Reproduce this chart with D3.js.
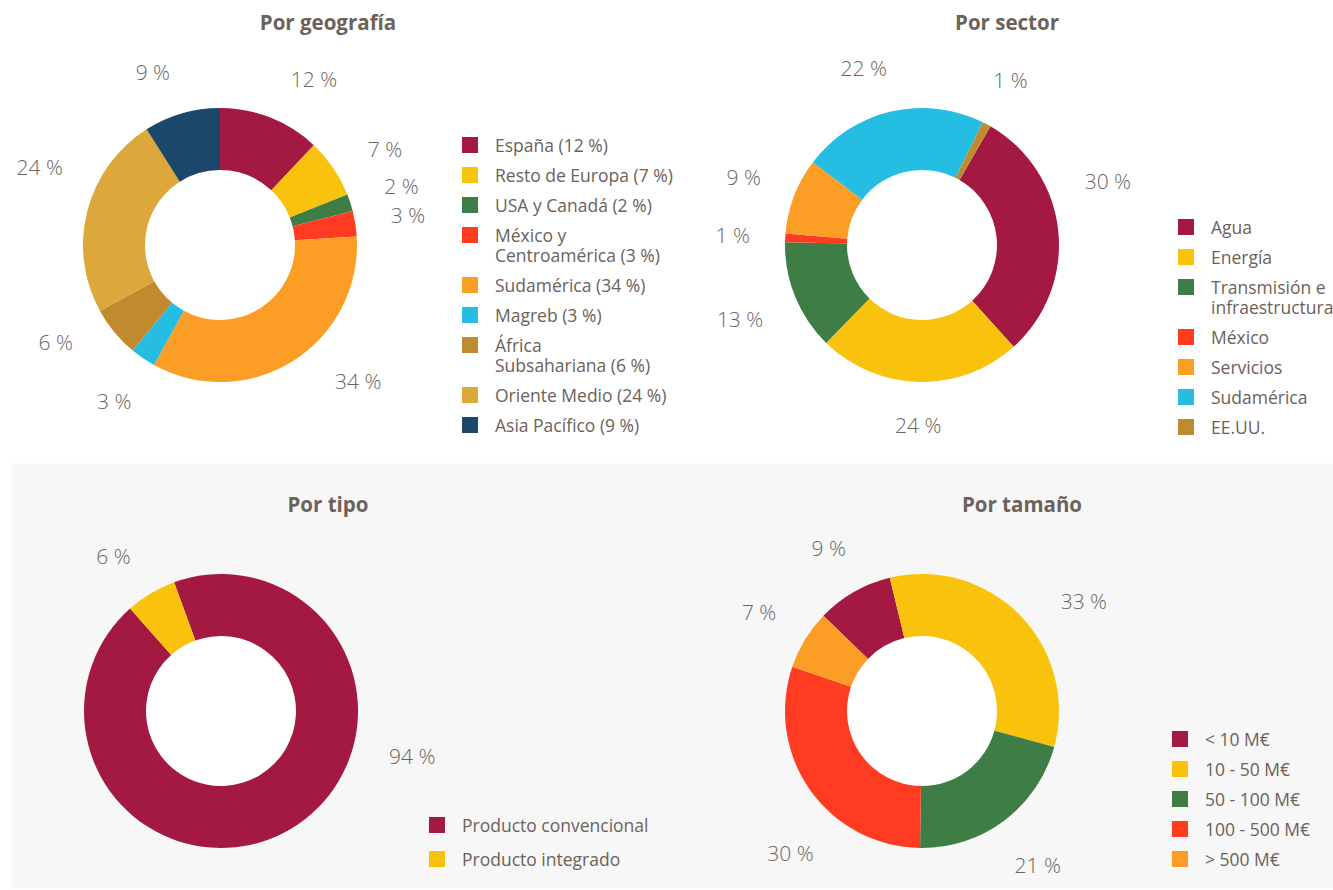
<!DOCTYPE html>
<html>
<head>
<meta charset="utf-8">
<script src="https://cdn.jsdelivr.net/npm/d3@7"></script>
<style>
  body { margin: 0; background: #fff; overflow: hidden; }
  svg { display: block; font-family: "Open Sans", sans-serif; }
</style>
</head>
<body>
<script>
// data
var geoLabels = ["España (12 %)", "Resto de Europa (7 %)", "USA y Canadá (2 %)", "México y|Centroamérica (3 %)", "Sudamérica (34 %)", "Magreb (3 %)", "África|Subsahariana (6 %)", "Oriente Medio (24 %)", "Asia Pacífico (9 %)"];
var geoValues = [12, 7, 2, 3, 34, 3, 6, 24, 9];

var sectorLabels = ["Agua", "Energía", "Transmisión e|infraestructuras", "México", "Servicios", "Sudamérica", "EE.UU."];
var sectorValues = [30, 24, 13, 1, 9, 22, 1];

var tipoLabels = ["Producto convencional", "Producto integrado"];
var tipoValues = [94, 6];

var sizeLabels = ["< 10 M€", "10 - 50 M€", "50 - 100 M€", "100 - 500 M€", "> 500 M€"];
var sizeValues = [9, 33, 21, 30, 7];

var colors = {
  maroon: "#a31941", yellow: "#f9c30d", green: "#3e7d46", red: "#ff3c21",
  orange: "#fc9d26", cyan: "#25bde1", brown: "#c08a2f", gold: "#dca73b", navy: "#1b476a"
};

var W = 1333, H = 890;
var svg = d3.select("body").append("svg").attr("width", W).attr("height", H);

// gray panel behind the bottom row
svg.append("rect").attr("x", 12.5).attr("y", 463.5).attr("width", W).attr("height", 425)
  .attr("fill", "#f7f7f7");

// nudge = label angle tweaks in degrees (label placement only)
var charts = [
  { title: "Por geografía", tx: 328, ty: 22, cx: 220, cy: 245, start: 0,
    labels: geoLabels, values: geoValues,
    cols: [colors.maroon, colors.yellow, colors.green, colors.red, colors.orange, colors.cyan, colors.brown, colors.gold, colors.navy],
    lx: 462, ly: 145, step: 30, nudge: { 0: 8, 1: 4, 4: -13, 6: 9, 7: 9, 8: -5 } },
  { title: "Por sector", tx: 1007, ty: 22, cx: 922, cy: 245, start: 30,
    labels: sectorLabels, values: sectorValues,
    cols: [colors.maroon, colors.yellow, colors.green, colors.red, colors.orange, colors.cyan, colors.brown],
    lx: 1178, ly: 227, step: 30, nudge: { 0: -13, 5: -5 } },
  { title: "Por tipo", tx: 328, ty: 504, cx: 221, cy: 711, start: -20,
    labels: tipoLabels, values: tipoValues,
    cols: [colors.maroon, colors.yellow],
    lx: 429, ly: 825, step: 34, nudge: { 0: -46, 1: -4 } },
  { title: "Por tamaño", tx: 1022, ty: 504, cx: 922, cy: 711, start: -46,
    labels: sizeLabels, values: sizeValues,
    cols: [colors.maroon, colors.yellow, colors.green, colors.red, colors.orange],
    lx: 1172, ly: 739, step: 30, nudge: { 1: 10, 3: -12 } }
];

var outerR = 137, innerR = 75, labelR0 = 172;

charts.forEach(function(c) {
  var g = svg.append("g");

  g.append("text")
    .attr("x", c.tx).attr("y", c.ty)
    .attr("text-anchor", "middle").attr("dominant-baseline", "central")
    .style("font-size", "20.5px").style("font-weight", "bold").style("fill", "#6b625a")
    .text(c.title);

  var pie = d3.pie().sort(null)
    .startAngle(c.start * Math.PI / 180)
    .endAngle(c.start * Math.PI / 180 + 2 * Math.PI);
  var arcs = pie(c.values);
  var arc = d3.arc().innerRadius(innerR).outerRadius(outerR);

  var donut = g.append("g").attr("transform", "translate(" + c.cx + "," + c.cy + ")");
  donut.append("circle").attr("r", innerR).attr("fill", "#fff");
  donut.selectAll("path")
    .data(arcs)
    .enter().append("path")
    .attr("d", arc)
    .attr("fill", function(d, i) { return c.cols[i]; });

  // labels sit just outside the ring, pushed out by their own half-size
  donut.selectAll("text")
    .data(arcs)
    .enter().append("text")
    .attr("text-anchor", "middle").attr("dominant-baseline", "central")
    .style("font-size", "21px").style("font-weight", 300).style("fill", "#6a645f")
    .text(function(d) { return d.value + " %"; })
    .attr("transform", function(d, i) {
      var a = (d.startAngle + d.endAngle) / 2 + (c.nudge[i] || 0) * Math.PI / 180;
      var hw = this.getBBox().width / 2;
      var r = labelR0 + hw * Math.abs(Math.sin(a)) + 8 * Math.abs(Math.cos(a));
      return "translate(" + (r * Math.sin(a)) + "," + (-r * Math.cos(a)) + ")";
    });

  // legend
  var y = c.ly;
  c.labels.forEach(function(lab, i) {
    var lines = lab.split("|");
    g.append("rect")
      .attr("x", c.lx).attr("y", y - 8).attr("width", 16).attr("height", 16)
      .attr("fill", c.cols[i]);
    var t = g.append("text")
      .attr("x", c.lx + 33).attr("y", y)
      .attr("dominant-baseline", "central")
      .style("font-size", "17.5px").style("fill", "#6b625a");
    lines.forEach(function(l, j) {
      t.append("tspan").attr("x", c.lx + 33).attr("dy", j === 0 ? 0 : 20).text(l);
    });
    y += c.step + (lines.length - 1) * 20;
  });
});
</script>
</body>
</html>
